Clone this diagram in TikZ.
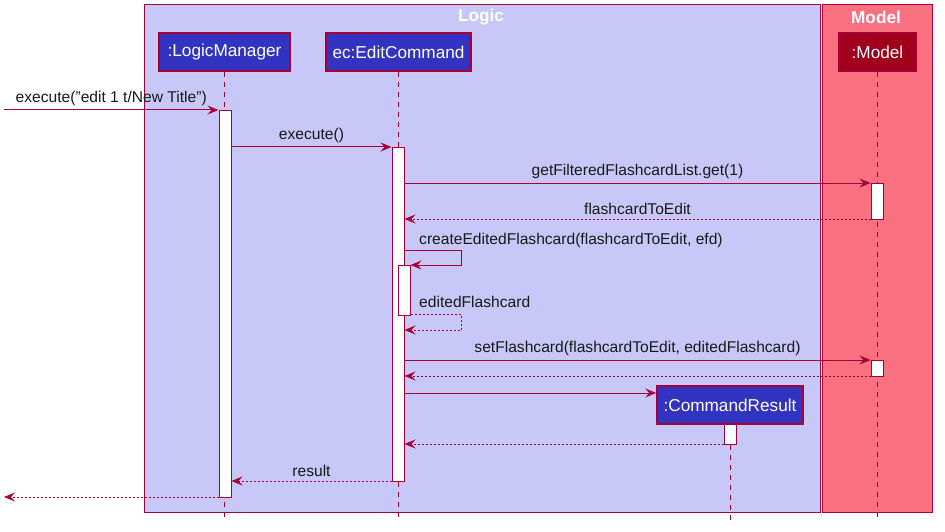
\documentclass[tikz,border=0pt]{standalone}
\usepackage{fontspec}
\setmainfont{Liberation Sans}
\usetikzlibrary{arrows.meta}
\definecolor{pborder}{HTML}{A80036}
\definecolor{logicbg}{HTML}{C8C8F8}
\definecolor{modelbg}{HTML}{F97181}
\definecolor{partblue}{HTML}{3333C2}
\definecolor{partred}{HTML}{A0001C}
\begin{document}
\begin{tikzpicture}[x=1pt,y=-1pt,
 grp/.style={draw=pborder, line width=1.2pt, inner sep=0pt, anchor=north west},
 grptitle/.style={text=white, font=\bfseries\fontsize{17.2}{20}\selectfont, inner sep=0pt},
 part/.style={draw=pborder, line width=1.6pt, fill=partblue, text=white, font=\fontsize{17.2}{20}\selectfont, minimum height=38pt, inner xsep=0pt},
 act/.style={draw=pborder, fill=white, line width=1pt, minimum width=12pt, inner sep=0pt, anchor=north},
 life/.style={draw=pborder, dash pattern=on 5pt off 5pt, line width=1pt},
 msg/.style={draw=pborder, line width=1pt, -{Stealth[length=11pt,width=9pt,inset=4pt]}},
 ret/.style={msg, dash pattern=on 2pt off 2pt},
 lbl/.style={font=\fontsize{15.6}{18}\selectfont, text=black!90, inner sep=0pt}
]
\useasboundingbox (0,0) rectangle (945,532);
% groups
\node[grp, fill=logicbg, minimum width=676pt, minimum height=508pt] (logic) at (144,4) {};
\node[grp, fill=modelbg, minimum width=110pt, minimum height=508pt] (model) at (822,4) {};
\node[grptitle] (logict) at (481,17) {Logic};
\node[grptitle] (modelt) at (876,17) {Model};
% y levels
\coordinate (y110) at (0,110);
\coordinate (y147) at (0,147);
\coordinate (y183) at (0,183);
\coordinate (y219) at (0,219);
\coordinate (y250) at (0,250);
\coordinate (y265) at (0,265);
\coordinate (y314) at (0,314);
\coordinate (y330) at (0,330);
\coordinate (y360) at (0,360);
\coordinate (y376) at (0,376);
\coordinate (y393) at (0,393);
\coordinate (y444) at (0,444);
\coordinate (y481) at (0,481);
\coordinate (y497) at (0,497);
\coordinate (yend) at (0,520);
\coordinate (inL) at (4,110);
\coordinate (outL) at (4,497);
\coordinate (s1) at (461,250);
\coordinate (s2) at (461,265);
\coordinate (r1) at (461,314);
\coordinate (r2) at (461,330);
% participants
\node[part, minimum width=131pt] (lm) at (224.5,52) {:LogicManager};
\node[part, minimum width=145pt] (ec) at (398.5,52) {ec:EditCommand};
\node[part, minimum width=77pt, fill=partred] (md) at (877.5,52) {:Model};
\node[part, minimum width=146pt] (cr) at (730,405) {:CommandResult};
% lifelines
\draw[life] (lm.south) -- (lm.south |- yend);
\draw[life] (ec.south) -- (ec.south |- yend);
\draw[life] (md.south) -- (md.south |- yend);
\draw[life] (cr.south) -- (cr.south |- yend);
% activations
\node[act, minimum height=387pt] (lma) at (225,110) {};
\node[act, minimum height=334pt] (eca) at (398,147) {};
\node[act, minimum height=36pt] (ma1) at (877,183) {};
\node[act, minimum height=50pt] (eca2) at (404,265) {};
\node[act, minimum height=16pt] (ma2) at (877,360) {};
\node[act, minimum height=20pt] (cra) at (730,424) {};
% messages
\draw[msg] (inL) -- (lma.west |- y110) node[lbl, midway, above=4pt] {execute("edit 1 t/New Title")};
\draw[msg] (lma.east |- y147) -- (eca.west |- y147) node[lbl, midway, above=4pt] {execute()};
\draw[msg] (eca.east |- y183) -- (ma1.west |- y183) node[lbl, midway, above=4pt] {getFilteredFlashcardList.get(1)};
\draw[ret] (ma1.west |- y219) -- (eca.east |- y219) node[lbl, midway, above=4pt] {flashcardToEdit};
\draw[msg] (eca.east |- y250) -- (s1) -- (s2) -- (eca2.east |- y265);
\node[lbl, anchor=west] (l5) at (419,240) {createEditedFlashcard(flashcardToEdit, efd)};
\draw[ret] (eca2.east |- y314) -- (r1) -- (r2) -- (eca.east |- y330);
\node[lbl, anchor=west] (l6) at (419,302) {editedFlashcard};
\draw[msg] (eca.east |- y360) -- (ma2.west |- y360) node[lbl, midway, above=4pt] {setFlashcard(flashcardToEdit, editedFlashcard)};
\draw[ret] (ma2.west |- y376) -- (eca.east |- y376);
\draw[msg] (eca.east |- y393) -- (cr.west |- y393);
\draw[ret] (cra.west |- y444) -- (eca.east |- y444);
\draw[ret] (eca.west |- y481) -- (lma.east |- y481) node[lbl, midway, above=4pt] {result};
\draw[ret] (lma.west |- y497) -- (outL);
\end{tikzpicture}
\end{document}
